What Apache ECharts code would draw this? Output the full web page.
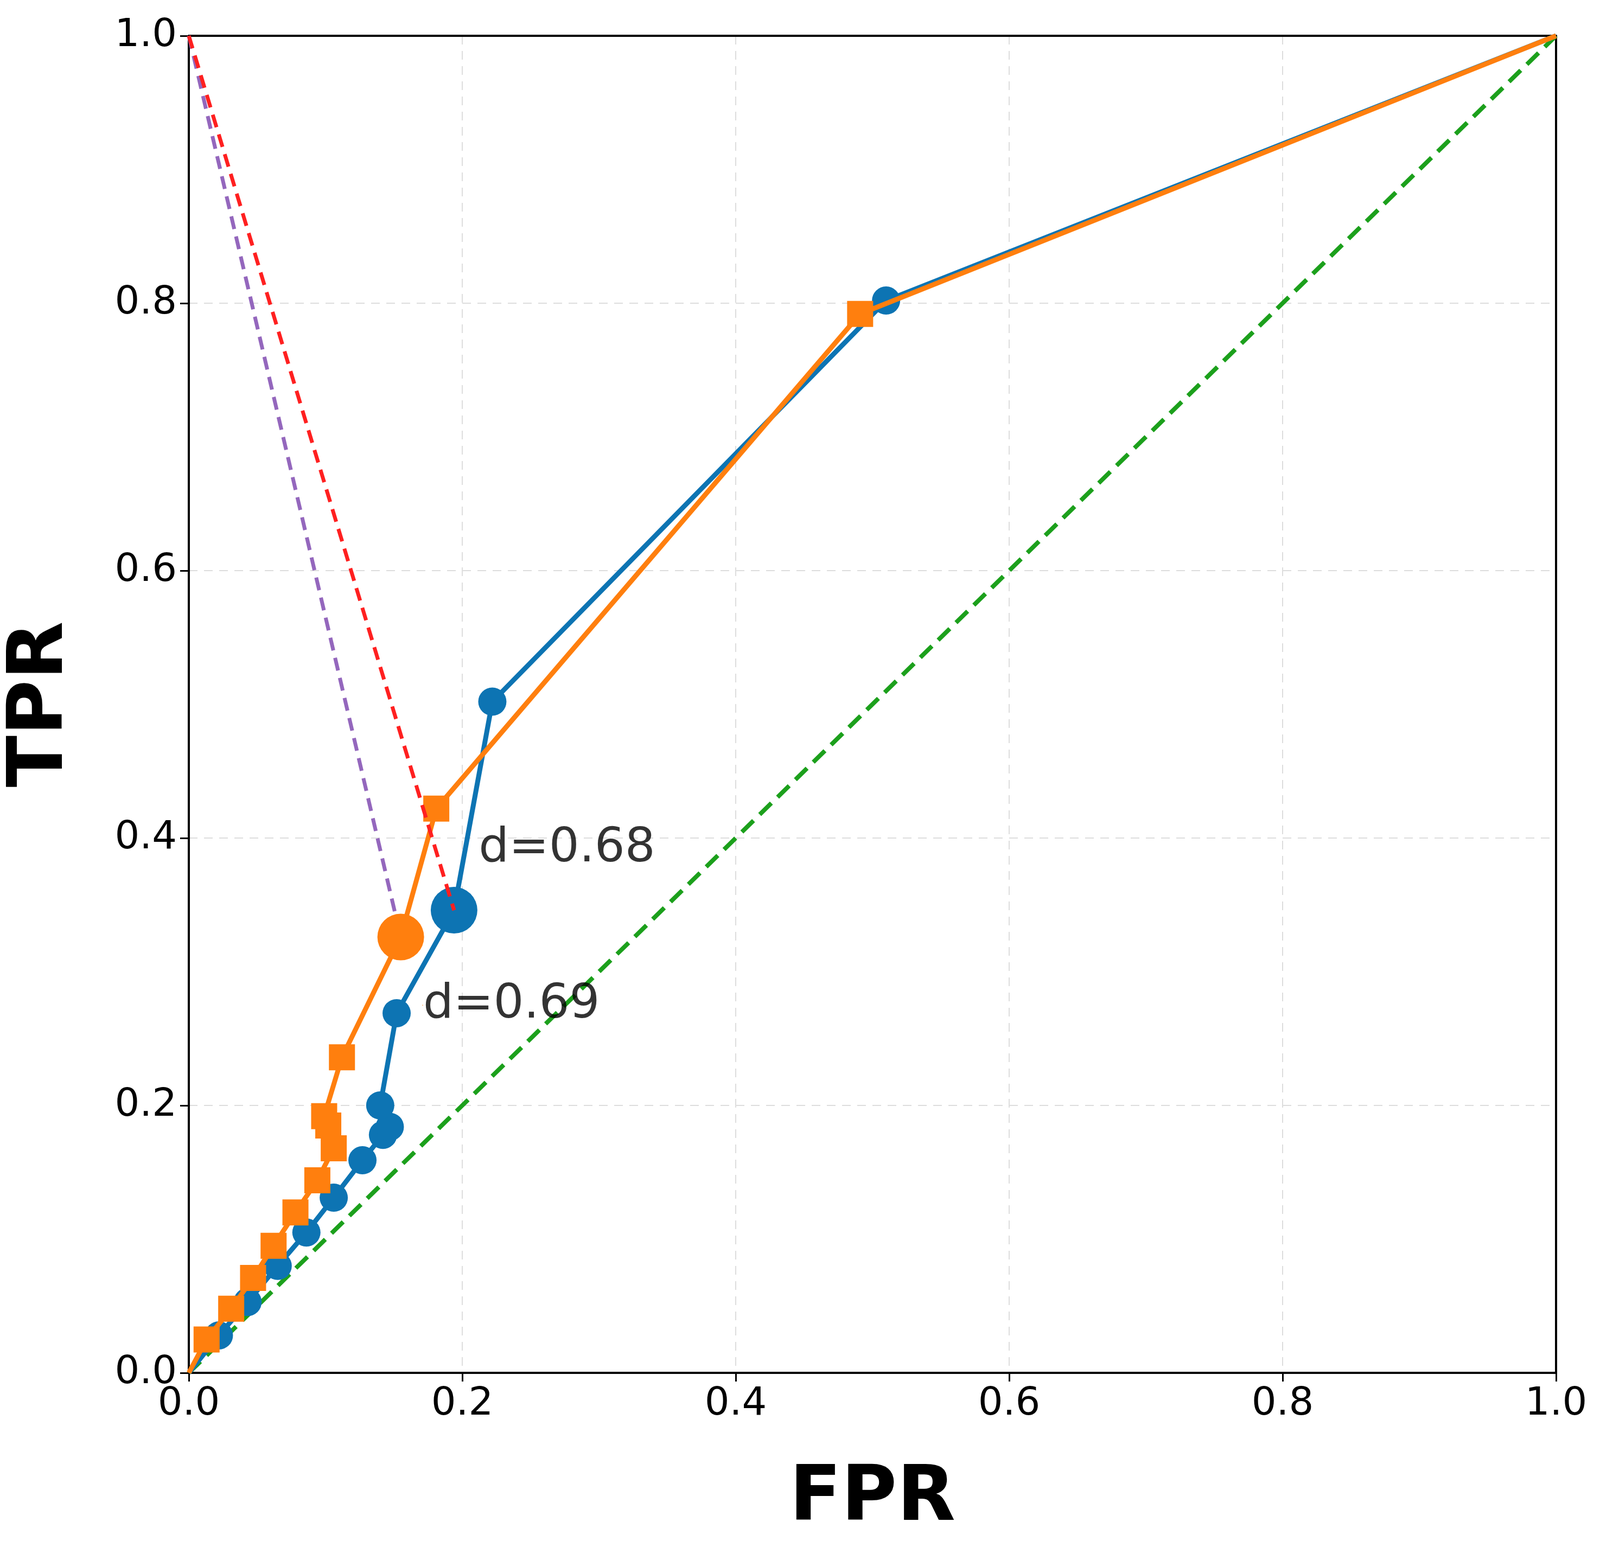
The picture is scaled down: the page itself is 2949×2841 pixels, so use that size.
<!DOCTYPE html>
<html>
<head>
<meta charset="utf-8">
<script src="https://cdn.jsdelivr.net/npm/echarts@6/dist/echarts.min.js"></script>
<style>html,body{margin:0;padding:0;background:#fff}#container{width:2949px;height:2841px}</style>
</head>
<body>
<div id="container"></div>
<script>
var dom = document.getElementById('container');
var myChart = echarts.init(dom, null, {renderer: 'canvas'});

// blue ROC curve (circles)
var blueFPR = [0, 0.022, 0.043, 0.065, 0.086, 0.106, 0.127, 0.142, 0.147, 0.140, 0.152, 0.194, 0.222, 0.510, 1];
var blueTPR = [0, 0.028, 0.053, 0.080, 0.105, 0.131, 0.159, 0.178, 0.184, 0.200, 0.269, 0.346, 0.502, 0.802, 1];
// orange ROC curve (squares)
var orangeFPR = [0, 0.013, 0.031, 0.047, 0.062, 0.078, 0.094, 0.106, 0.102, 0.099, 0.112, 0.155, 0.181, 0.491, 1];
var orangeTPR = [0, 0.025, 0.048, 0.071, 0.095, 0.120, 0.144, 0.168, 0.185, 0.192, 0.236, 0.326, 0.422, 0.792, 1];
// optimal points
var blueBest = [0.194, 0.346];
var orangeBest = [0.155, 0.326];
var labels = ['d=0.68', 'd=0.69'];
var labelPos = [[0.212, 0.392], [0.171, 0.275]];

// curve points, no marker on the two end points
function curve(a, b) {
  return a.map(function (v, i) {
    var p = {value: [v, b[i]]};
    if (i === 0 || i === a.length - 1) p.symbol = 'none';
    return p;
  });
}

var tickFont = {fontSize: 72, color: '#000', fontFamily: 'DejaVu Sans'};
var fmt = function (v) { return v.toFixed(1); };
var grid = {color: '#dddddd', type: [16, 12], width: 2};

var option = {
  backgroundColor: '#fff',
  animation: false,
  grid: {left: 345, right: 81, top: 66, bottom: 307},
  xAxis: [{
    type: 'value', min: 0, max: 1, interval: 0.2,
    name: 'FPR', nameLocation: 'middle', nameGap: 165,
    nameTextStyle: {fontSize: 140, fontWeight: 'bold', color: '#000', fontFamily: 'DejaVu Sans'},
    axisLine: {show: true, lineStyle: {color: '#000', width: 4}},
    axisTick: {show: true, length: 16, lineStyle: {color: '#000', width: 3}},
    axisLabel: Object.assign({margin: 22, formatter: fmt}, tickFont),
    splitLine: {show: true, lineStyle: grid}
  }, {
    type: 'value', min: 0, max: 1, position: 'top',
    axisLine: {show: true, onZero: false, lineStyle: {color: '#000', width: 4}},
    axisTick: {show: false}, axisLabel: {show: false}, splitLine: {show: false}
  }],
  yAxis: [{
    type: 'value', min: 0, max: 1, interval: 0.2,
    name: 'TPR', nameLocation: 'middle', nameGap: 200, nameRotate: 90,
    nameTextStyle: {fontSize: 140, fontWeight: 'bold', color: '#000', fontFamily: 'DejaVu Sans'},
    axisLine: {show: true, lineStyle: {color: '#000', width: 4}},
    axisTick: {show: true, length: 16, lineStyle: {color: '#000', width: 3}},
    axisLabel: Object.assign({margin: 22, formatter: fmt}, tickFont),
    splitLine: {show: true, lineStyle: grid}
  }, {
    type: 'value', min: 0, max: 1, position: 'right',
    axisLine: {show: true, onZero: false, lineStyle: {color: '#000', width: 4}},
    axisTick: {show: false}, axisLabel: {show: false}, splitLine: {show: false}
  }],
  series: [
    {type: 'line', data: [[0, 0], [1, 1]], symbol: 'none', z: 1,
      lineStyle: {color: '#1ca01c', width: 8, type: [30, 16]}},
    {type: 'line', data: [[0, 1], orangeBest], symbol: 'none', z: 1,
      lineStyle: {color: '#9467bd', width: 7, type: [24, 14]}},
    {type: 'line', data: curve(blueFPR, blueTPR), symbol: 'circle', symbolSize: 52, z: 3,
      itemStyle: {color: '#0d74b3'}, lineStyle: {color: '#0d74b3', width: 9}},
    {type: 'line', data: curve(orangeFPR, orangeTPR), symbol: 'rect', symbolSize: 48, z: 4,
      itemStyle: {color: '#ff7f0e'}, lineStyle: {color: '#ff7f0e', width: 9}},
    {type: 'scatter', data: [blueBest], symbol: 'circle', symbolSize: 86, z: 5, itemStyle: {color: '#0d74b3', opacity: 1}},
    {type: 'scatter', data: [orangeBest], symbol: 'circle', symbolSize: 86, z: 5, itemStyle: {color: '#ff7f0e', opacity: 1}},
    {type: 'line', data: [[0, 1], blueBest], symbol: 'none', z: 6,
      lineStyle: {color: '#ff2020', width: 7, type: [24, 14]}},
    {type: 'scatter', symbolSize: 0, z: 7,
      data: labels.map(function (t, i) { return {value: labelPos[i], name: t}; }),
      label: {show: true, position: 'right', distance: 0, formatter: '{b}', fontSize: 88, color: '#000', fontFamily: 'DejaVu Sans'}}
  ]
};
myChart.setOption(option);
window.addEventListener('resize', myChart.resize);
</script>
</body>
</html>
